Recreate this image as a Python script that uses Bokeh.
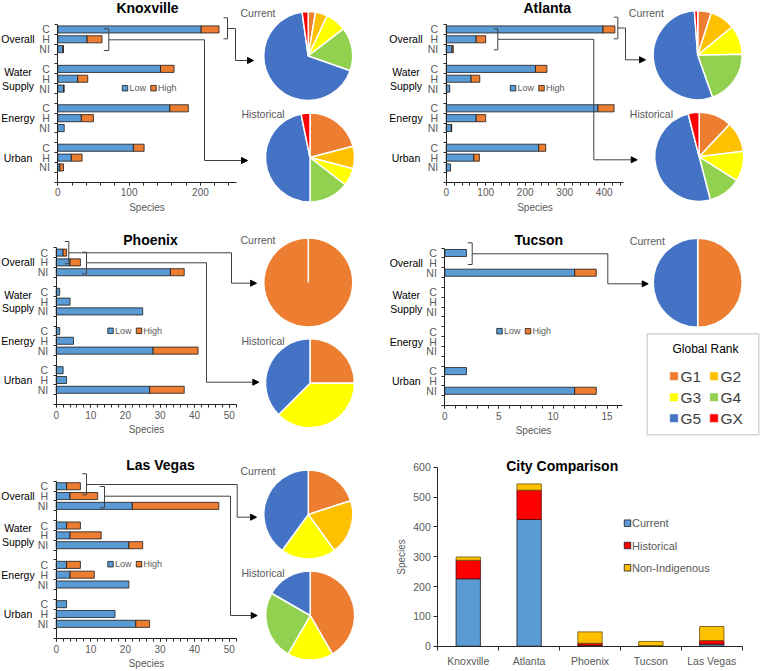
import numpy as np
from bokeh.plotting import figure
from bokeh.models import Range1d, LinearAxis, FixedTicker, Arrow, NormalHead, BoxAnnotation
from bokeh.core.properties import value
from bokeh.embed import file_html
from bokeh.resources import INLINE

# ---------------- data ----------------
cities = ["Knoxville", "Atlanta", "Phoenix", "Tucson", "Las Vegas"]
groups = ["Overall", "Water\nSupply", "Energy", "Urban"]
subcats = ["C", "H", "NI"]
ranks = ["G1", "G2", "G3", "G4", "G5", "GX"]

# species per (Overall, Water Supply, Energy, Urban) x (C, H, NI)
knoxville_low = [201, 41, 7, 144, 28, 8, 157, 33, 9, 106, 19, 3]
knoxville_high = [25, 21, 1, 19, 14, 1, 26, 17, 0, 15, 15, 5]
atlanta_low = [397, 76, 15, 226, 63, 9, 384, 76, 13, 234, 70, 11]
atlanta_high = [30, 24, 3, 29, 22, 0, 41, 24, 1, 18, 14, 0]
phoenix_low = [2, 4, 33, 1, 4, 25, 1, 5, 28, 2, 3, 27]
phoenix_high = [1, 3, 4, 0, 0, 0, 0, 0, 13, 0, 0, 10]
tucson_low = [2, 0, 12, 0, 0, 0, 0, 0, 0, 2, 0, 12]
tucson_high = [0, 0, 2, 0, 0, 0, 0, 0, 0, 0, 0, 2]
lasvegas_low = [3, 4, 22, 3, 4, 21, 3, 4, 21, 3, 17, 23]
lasvegas_high = [4, 8, 25, 4, 9, 4, 4, 7, 0, 0, 0, 4]

# global rank composition (G1, G2, G3, G4, G5, GX)
knoxville_current = [6, 10, 17, 36, 153, 5]
knoxville_historical = [13, 5, 4, 9, 29, 2]
atlanta_current = [21, 39, 45, 85, 231, 5]
atlanta_historical = [12, 11, 11, 12, 50, 4]
phoenix_current = [1, 0, 0, 0, 0, 0]
phoenix_historical = [2, 0, 3, 0, 3, 0]
tucson_current = [1, 0, 0, 0, 1, 0]
lasvegas_current = [1, 1, 1, 0, 2, 0]
lasvegas_historical = [5, 0, 2, 3, 2, 0]

# city comparison
city_current = [226, 425, 3, 2, 7]
city_historical = [62, 98, 7, 0, 12]
city_nonindigenous = [11, 21, 38, 14, 47]

# ---------------- styles ----------------
FONT = value("Liberation Sans")
LOW_C, HIGH_C = "#5B9BD5", "#ED7D31"
RANK_COLORS = ["#ED7D31", "#FFC000", "#FFFF00", "#92D050", "#4472C4", "#FF0000"]
CUR_C, HIST_C, NI_C = "#5B9BD5", "#FF0000", "#FFC000"
AX_C = "#262626"
LBL_C = "#595959"
LINE_C = "#404040"

W, H = 760, 671
RW, RH = 760, 671          # layout frame (pixels)
SX = W / RW


def Y(r):
    return RH - r


p = figure(width=W, height=H, x_range=Range1d(0, RW), y_range=Range1d(0, RH),
           x_axis_type=None, y_axis_type=None, output_backend="svg",
           toolbar_location=None, min_border=0, outline_line_color=None,
           background_fill_color="white", border_fill_color="white")

extra_x, extra_y = {}, {}


def style_axis(ax, fs="10px"):
    ax.axis_line_color = AX_C
    ax.major_tick_line_color = AX_C
    ax.minor_tick_line_color = AX_C
    ax.major_label_text_font = "Liberation Sans"
    ax.major_label_text_font_size = fs
    ax.major_label_text_color = LBL_C
    ax.axis_label_text_font = "Liberation Sans"
    ax.axis_label_text_font_size = fs
    ax.axis_label_text_font_style = "normal"
    ax.axis_label_text_color = LBL_C
    ax.major_tick_in = 0
    ax.minor_tick_in = 0


def label(x, y, txt, size="10.5px", color="black", align="left", bold=False):
    p.text(x=[x], y=[Y(y)], text=[txt], text_font=FONT, text_font_size=size,
           text_color=color, text_align=align, text_baseline="middle",
           text_font_style="bold" if bold else "normal", text_line_height=1.15)


def pie(cx, cy, counts, r=44.5):
    c = np.array(counts, dtype=float)
    fr = c / c.sum()
    cum = np.concatenate([[0.0], np.cumsum(fr)])
    keep = fr > 0
    start = np.pi / 2 - 2 * np.pi * cum[1:]
    end = np.pi / 2 - 2 * np.pi * cum[:-1]
    start = np.maximum(start, end - 2 * np.pi + 1e-3)
    cols = [RANK_COLORS[i] for i in range(len(counts)) if keep[i]]
    p.wedge(x=cx, y=Y(cy), radius=r * SX, radius_units="screen",
            start_angle=list(start[keep]), end_angle=list(end[keep]),
            fill_color=cols, line_color="white", line_width=1.5)


def connector(bracket, path, tip):
    bl, br, bt, bb = bracket
    p.line(x=[bl, br, br, bl], y=[Y(bt), Y(bt), Y(bb), Y(bb)], line_color=LINE_C, line_width=1)
    xs = [pt[0] for pt in path]
    ys = [Y(pt[1]) for pt in path]
    p.line(x=xs, y=ys, line_color=LINE_C, line_width=1)
    p.add_layout(Arrow(x_start=path[-1][0], y_start=Y(path[-1][1]), x_end=tip[0], y_end=Y(tip[1]),
                       line_color=LINE_C, line_width=1,
                       end=NormalHead(size=6, fill_color="black", line_color="black")))


def bar_panel(key, title, low, high, X0, s, T, h, xmax, major, title_xy, grp_x, leg):
    xr, yr = key + "_x", key + "_y"
    extra_x[xr] = Range1d(-X0 / s, (RW - X0) / s)
    extra_y[yr] = Range1d((RH - T) / h, -T / h)
    slots = [4 * g + k + 0.5 for g in range(4) for k in range(3)]
    lows = np.array(low, dtype=float)
    highs = np.array(high, dtype=float)
    yl = [sl for sl, v in zip(slots, lows) if v > 0]
    rl = [v for v in lows if v > 0]
    p.hbar(y=yl, left=0, right=rl, height=0.72, fill_color=LOW_C, line_color="#1a1a1a",
           line_width=0.8, x_range_name=xr, y_range_name=yr)
    yh = [sl for sl, v in zip(slots, highs) if v > 0]
    lh = [lo for lo, v in zip(lows, highs) if v > 0]
    rh = [lo + v for lo, v in zip(lows, highs) if v > 0]
    p.hbar(y=yh, left=lh, right=rh, height=0.72, fill_color=HIGH_C, line_color="#1a1a1a",
           line_width=0.8, x_range_name=xr, y_range_name=yr)

    xa = LinearAxis(x_range_name=xr, y_range_name=yr, fixed_location=16, bounds=(0, xmax),
                    ticker=FixedTicker(ticks=list(np.arange(0, xmax + 1e-9, major)),
                                       minor_ticks=list(np.arange(0, xmax + 1e-9, major / 5))),
                    axis_label="Species")
    style_axis(xa, "10px")
    xa.major_tick_out = 3
    xa.minor_tick_out = 3
    xa.major_label_standoff = 3
    xa.axis_label_standoff = 2
    p.add_layout(xa, "below")

    ya = LinearAxis(x_range_name=xr, y_range_name=yr, fixed_location=0, bounds=(0, 16),
                    ticker=FixedTicker(ticks=slots, minor_ticks=list(range(17))))
    ya.major_label_overrides = {sl: subcats[i % 3] for i, sl in enumerate(slots)}
    style_axis(ya, "10.5px")
    ya.major_tick_out = 0
    ya.minor_tick_out = 3
    ya.major_label_standoff = 5
    p.add_layout(ya, "left")

    # group labels
    p.text(x=[grp_x] * 4, y=[4 * g + 1.5 for g in range(4)], text=groups, y_range_name=yr,
           text_font=FONT, text_font_size="10.5px", text_color="black",
           text_align="center", text_baseline="middle", text_line_height=1.15)
    label(title_xy[0], title_xy[1], title, size="14px", align="center", bold=True)

    # low / high legend
    lx, ly = leg
    p.scatter(x=[lx, lx + 28.5], y=[Y(ly), Y(ly)], marker="square", size=5.5,
              fill_color=[LOW_C, HIGH_C], line_color="#1a1a1a", line_width=0.8)
    label(lx + 4.5, ly, "Low", size="9px", color=LBL_C)
    label(lx + 33, ly, "High", size="9px", color=LBL_C)


# ---- Knoxville ----
bar_panel("kn", "Knoxville", knoxville_low, knoxville_high, 57.3, 0.7133, 24.0, 9.86, 250, 100,
          (147, 7.5), 17.5, (124.5, 87.7))
label(240, 12.3, "Current", color=LBL_C)
label(241, 113.3, "Historical", color=LBL_C)
pie(307.7, 55.5, knoxville_current)
pie(309.5, 157.0, knoxville_historical)
connector((223, 227, 17.3, 38.3), [(227, 28), (235, 28), (235, 60)], (253, 60))
connector((103.3, 108.3, 28.3, 50), [(108.3, 39.3), (204, 39.3), (204, 160)], (247, 160))

# ---- Atlanta ----
bar_panel("at", "Atlanta", atlanta_low, atlanta_high, 445.7, 0.395, 24.0, 9.86, 450, 100,
          (546.7, 7.5), 405.5, (512.5, 87.7))
label(628.3, 12.3, "Current", color=LBL_C)
label(629.3, 113.3, "Historical", color=LBL_C)
pie(697.2, 54.7, atlanta_current)
pie(698.7, 156.3, atlanta_historical)
connector((613.3, 617.3, 16.7, 38.3), [(617.3, 27.5), (625, 27.5), (625, 59.3)], (645, 59.3))
connector((493.3, 497.3, 28.3, 49.3), [(497.3, 38.8), (593.3, 38.8), (593.3, 159.3)], (636.7, 159.3))

# ---- Phoenix ----
bar_panel("ph", "Phoenix", phoenix_low, phoenix_high, 55.7, 3.46, 247.2, 9.8, 52, 10,
          (150, 239), 17.5, (110, 330.3))
label(240, 239, "Current", color=LBL_C)
label(241, 340, "Historical", color=LBL_C)
pie(307.8, 282.0, phoenix_current)
pie(309.5, 382.8, phoenix_historical)
connector((64.3, 68.3, 241, 263.3), [(68.3, 252.3), (231, 252.3), (231, 282.7)], (256, 282.7))
connector((81.7, 86, 251.7, 273.3), [(86, 262.3), (206, 262.3), (206, 381.7)], (258.3, 381.7))

# ---- Tucson ----
bar_panel("tu", "Tucson", tucson_low, tucson_high, 444.3, 10.82, 247.6, 9.84, 16.4, 5,
          (538.3, 239), 405.8, (499, 330.7))
label(629.3, 240, "Current", color=LBL_C)
pie(697.2, 282.2, tucson_current)
connector((467.3, 471.7, 242.3, 264), [(471.7, 253.3), (607.3, 253.3), (607.3, 283.3)], (647.7, 283.3))

# Global Rank legend
p.add_layout(BoxAnnotation(left=646.7, right=758.3, bottom=Y(434.3), top=Y(333.3),
                           fill_alpha=0, line_color="#595959", line_width=1.2))
label(705, 348.3, "Global Rank", size="12px", align="center")
gx = [673.5, 713.5, 673.5, 713.5, 673.5, 713.5]
gy = [375.7, 375.7, 396.7, 396.7, 417.7, 417.7]
p.scatter(x=gx, y=[Y(v) for v in gy], marker="square", size=8.5, fill_color=RANK_COLORS,
          line_color="white", line_width=0.5)
p.text(x=[v + 6.5 for v in gx], y=[Y(v) for v in gy], text=ranks, text_font=FONT,
       text_font_size="15.5px", text_color="#404040", text_align="left", text_baseline="middle")

# ---- Las Vegas ----
bar_panel("lv", "Las Vegas", lasvegas_low, lasvegas_high, 55.7, 3.46, 480.8, 9.83, 52, 10,
          (160, 464), 17.5, (110, 563.7))
label(240, 470.7, "Current", color=LBL_C)
label(241, 572.3, "Historical", color=LBL_C)
pie(307.8, 514.0, lasvegas_current)
pie(309.7, 615.0, lasvegas_historical)
connector((81.7, 86, 473.3, 494.3), [(86, 484), (236.7, 484), (236.7, 516.7)], (256, 516.7))
connector((99.3, 104, 486, 507.3), [(104, 495.7), (230, 495.7), (230, 615)], (256.7, 615))

# ---- City comparison ----
CX0, CW = 437.3, 60.88
CY0, CS = 645.7, 0.2983
extra_x["cc_x"] = Range1d(-CX0 / CW, (RW - CX0) / CW)
extra_y["cc_y"] = Range1d((CY0 - RH) / CS, CY0 / CS)
xc = [i + 0.5 for i in range(len(cities))]
cur = np.array(city_current, dtype=float)
his = np.array(city_historical, dtype=float)
nin = np.array(city_nonindigenous, dtype=float)
p.vbar(x=xc, bottom=0, top=cur, width=0.4, fill_color=CUR_C, line_color="#1a1a1a",
       line_width=0.8, x_range_name="cc_x", y_range_name="cc_y")
mask = his > 0
p.vbar(x=[v for v, m in zip(xc, mask) if m], bottom=cur[mask], top=(cur + his)[mask], width=0.4,
       fill_color=HIST_C, line_color="#5a0000", line_width=0.8, x_range_name="cc_x", y_range_name="cc_y")
p.vbar(x=xc, bottom=cur + his, top=cur + his + nin, width=0.4, fill_color=NI_C,
       line_color="#6b5200", line_width=0.8, x_range_name="cc_x", y_range_name="cc_y")

cya = LinearAxis(x_range_name="cc_x", y_range_name="cc_y", fixed_location=0, bounds=(0, 600),
                 ticker=FixedTicker(ticks=list(range(0, 601, 100)), minor_ticks=[]),
                 axis_label="Species")
style_axis(cya, "10.5px")
cya.axis_label_text_font_size = "10px"
cya.major_tick_out = 4
cya.major_label_standoff = 3
cya.axis_label_standoff = 3
p.add_layout(cya, "left")

cxa = LinearAxis(x_range_name="cc_x", y_range_name="cc_y", fixed_location=0, bounds=(0, 5),
                 ticker=FixedTicker(ticks=xc, minor_ticks=list(range(6))))
cxa.major_label_overrides = {v: c for v, c in zip(xc, cities)}
style_axis(cxa, "10.5px")
cxa.major_tick_out = 0
cxa.minor_tick_out = 4
cxa.major_label_standoff = 5
p.add_layout(cxa, "below")

label(561.7, 465, "City Comparison", size="14px", align="center", bold=True)
lgx = 627
lgy = [522.7, 545.0, 567.3]
p.scatter(x=[lgx] * 3, y=[Y(v) for v in lgy], marker="square", size=6.5,
          fill_color=[CUR_C, HIST_C, NI_C], line_color="#1a1a1a", line_width=0.8)
p.text(x=[lgx + 4.5] * 3, y=[Y(v) for v in lgy], text=["Current", "Historical", "Non-Indigenous"],
       text_font=FONT, text_font_size="11px", text_color=LBL_C, text_align="left",
       text_baseline="middle")

p.extra_x_ranges = extra_x
p.extra_y_ranges = extra_y

open("out.html", "w").write(file_html(p, INLINE))
